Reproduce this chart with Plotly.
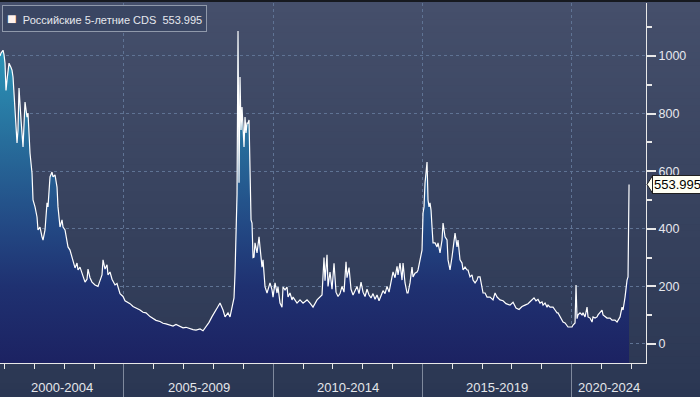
import plotly.graph_objects as go

# ---------------- data ----------------
years = [
    2000.850, 2000.884, 2000.951, 2000.984, 2001.018, 2001.051, 2001.085, 2001.152, 2001.219, 2001.252,
    2001.286, 2001.353, 2001.420, 2001.453, 2001.487, 2001.554, 2001.621, 2001.688, 2001.755, 2001.788,
    2001.855, 2001.922, 2001.956, 2002.023, 2002.090, 2002.123, 2002.190, 2002.257, 2002.291, 2002.358,
    2002.425, 2002.458, 2002.525, 2002.592, 2002.626, 2002.693, 2002.760, 2002.793, 2002.860, 2002.927,
    2002.961, 2003.028, 2003.095, 2003.128, 2003.195, 2003.262, 2003.296, 2003.363, 2003.430, 2003.463,
    2003.530, 2003.597, 2003.631, 2003.698, 2003.765, 2003.798, 2003.865, 2003.932, 2004.033, 2004.133,
    2004.200, 2004.267, 2004.301, 2004.368, 2004.435, 2004.468, 2004.535, 2004.602, 2004.703, 2004.770,
    2004.870, 2004.971, 2005.038, 2005.138, 2005.205, 2005.306, 2005.406, 2005.540, 2005.641, 2005.741,
    2005.875, 2005.976, 2006.076, 2006.210, 2006.311, 2006.411, 2006.545, 2006.646, 2006.746, 2006.880,
    2006.981, 2007.081, 2007.215, 2007.316, 2007.416, 2007.550, 2007.651, 2007.751, 2007.852, 2007.952,
    2008.053, 2008.153, 2008.220, 2008.321, 2008.388, 2008.488, 2008.555, 2008.622, 2008.656, 2008.689,
    2008.723, 2008.756, 2008.790, 2008.823, 2008.857, 2008.890, 2008.924, 2008.957, 2008.991, 2009.024,
    2009.058, 2009.091, 2009.125, 2009.158, 2009.192, 2009.225, 2009.259, 2009.292, 2009.326, 2009.359,
    2009.393, 2009.460, 2009.493, 2009.527, 2009.560, 2009.627, 2009.661, 2009.694, 2009.728, 2009.795,
    2009.828, 2009.895, 2009.962, 2009.996, 2010.063, 2010.130, 2010.163, 2010.230, 2010.297, 2010.331,
    2010.398, 2010.465, 2010.498, 2010.565, 2010.632, 2010.666, 2010.800, 2010.900, 2011.001, 2011.135,
    2011.235, 2011.336, 2011.470, 2011.570, 2011.637, 2011.704, 2011.738, 2011.805, 2011.838, 2011.905,
    2011.972, 2012.039, 2012.106, 2012.173, 2012.240, 2012.307, 2012.374, 2012.441, 2012.475, 2012.542,
    2012.609, 2012.676, 2012.743, 2012.810, 2012.877, 2012.944, 2013.011, 2013.078, 2013.145, 2013.212,
    2013.279, 2013.346, 2013.413, 2013.480, 2013.547, 2013.614, 2013.681, 2013.748, 2013.815, 2013.882,
    2013.949, 2014.016, 2014.083, 2014.150, 2014.183, 2014.250, 2014.317, 2014.351, 2014.418, 2014.485,
    2014.518, 2014.585, 2014.652, 2014.686, 2014.753, 2014.820, 2014.853, 2014.920, 2014.987, 2015.021,
    2015.054, 2015.088, 2015.121, 2015.155, 2015.188, 2015.222, 2015.255, 2015.289, 2015.322, 2015.356,
    2015.423, 2015.490, 2015.523, 2015.590, 2015.657, 2015.691, 2015.758, 2015.825, 2015.858, 2015.925,
    2015.992, 2016.026, 2016.093, 2016.160, 2016.193, 2016.260, 2016.327, 2016.361, 2016.428, 2016.495,
    2016.528, 2016.595, 2016.662, 2016.696, 2016.763, 2016.830, 2016.863, 2016.930, 2016.997, 2017.031,
    2017.098, 2017.165, 2017.265, 2017.366, 2017.433, 2017.500, 2017.600, 2017.701, 2017.801, 2017.935,
    2018.036, 2018.136, 2018.237, 2018.337, 2018.438, 2018.538, 2018.639, 2018.739, 2018.806, 2018.873,
    2018.940, 2019.007, 2019.041, 2019.108, 2019.175, 2019.208, 2019.275, 2019.342, 2019.376, 2019.443,
    2019.510, 2019.543, 2019.610, 2019.677, 2019.711, 2019.778, 2019.845, 2019.878, 2019.945, 2020.012,
    2020.046, 2020.113, 2020.146, 2020.180, 2020.213, 2020.280, 2020.347, 2020.381, 2020.448, 2020.515,
    2020.548, 2020.615, 2020.682, 2020.716, 2020.783, 2020.850, 2020.883, 2020.950, 2021.017, 2021.051,
    2021.118, 2021.185, 2021.218, 2021.285, 2021.352, 2021.386, 2021.453, 2021.520, 2021.553, 2021.620,
    2021.687, 2021.721, 2021.788, 2021.821, 2021.855, 2021.888, 2021.922,
]
cds_values = [
    1000, 1010, 1020, 1005, 975, 880, 917, 975, 960, 951,
    927, 802, 698, 743, 889, 778, 684, 840, 788, 802,
    663, 594, 500, 476, 441, 396, 406, 372, 361, 396,
    490, 476, 580, 597, 580, 587, 545, 476, 406, 431,
    406, 396, 351, 337, 326, 302, 281, 264, 281, 257,
    267, 247, 233, 215, 225, 260, 230, 215, 205, 200,
    220, 240, 292, 260, 275, 240, 250, 225, 205, 210,
    175, 165, 150, 145, 140, 130, 125, 118, 110, 108,
    95, 88, 82, 78, 72, 70, 66, 62, 68, 60,
    56, 58, 52, 50, 48, 52, 46, 60, 75, 95,
    115, 130, 142, 118, 94, 108, 94, 128, 142, 160,
    246, 372, 520, 1087, 560, 927, 743, 823, 760, 684,
    788, 733, 767, 767, 778, 604, 431, 420, 300, 302,
    351, 316, 337, 372, 337, 267, 292, 246, 198, 177,
    188, 212, 188, 163, 212, 177, 198, 142, 128, 198,
    188, 198, 163, 177, 153, 163, 142, 153, 142, 153,
    142, 128, 153, 163, 170, 300, 220, 310, 200, 250,
    190, 280, 180, 165, 175, 200, 180, 285, 230, 265,
    190, 170, 185, 200, 175, 215, 180, 165, 190, 170,
    160, 175, 155, 170, 150, 165, 185, 175, 200, 180,
    215, 250, 230, 270, 240, 281, 222, 281, 212, 177,
    177, 212, 267, 233, 246, 250, 257, 292, 326, 455,
    476, 559, 604, 632, 500, 476, 490, 465, 406, 351,
    351, 337, 351, 316, 361, 420, 372, 361, 292, 257,
    302, 326, 385, 337, 361, 292, 281, 257, 267, 257,
    257, 233, 240, 222, 212, 222, 233, 233, 188, 177,
    177, 163, 163, 153, 177, 163, 153, 150, 140, 135,
    145, 125, 120, 130, 135, 140, 150, 160, 150, 155,
    142, 146, 135, 142, 128, 135, 128, 128, 128, 118,
    108, 108, 94, 83, 76, 73, 66, 59, 59, 59,
    66, 73, 205, 88, 101, 108, 101, 108, 94, 128,
    94, 90, 76, 94, 90, 94, 101, 108, 118, 101,
    94, 90, 90, 90, 83, 83, 83, 76, 83, 94,
    128, 118, 163, 198, 222, 233, 553.995,
]
series_name = "Российские 5-летние CDS"
last_value_text = "553.995"
period_starts = [2000, 2005, 2010, 2015, 2020]
period_labels = ["2000-2004", "2005-2009", "2010-2014", "2015-2019", "2020-2024"]
y_tick_values = [0, 200, 400, 600, 800, 1000]

# ---------------- layout constants ----------------
W, H = 700, 397
M_L, M_R, M_T, M_B = 0, 54, 3, 34
X_RANGE = [2000.85, 2022.49]
Y_RANGE = [-66, 1184]
plot_h = H - M_T - M_B
plot_w = W - M_L - M_R
FONT = "Liberation Sans, Arial"

fig = go.Figure()

# baseline at the axis floor so the area reaches the bottom of the plot
fig.add_trace(go.Scatter(
    x=years, y=[Y_RANGE[0]] * len(years), mode="lines",
    line=dict(width=0, color="rgba(0,0,0,0)"), showlegend=False, hoverinfo="skip"))

fig.add_trace(go.Scatter(
    x=years, y=cds_values, mode="lines", name=series_name,
    line=dict(color="#ffffff", width=1.2),
    fill="tonexty",
    fillgradient=dict(
        type="vertical", start=Y_RANGE[0], stop=1150,
        colorscale=[[0.0, "#1c2262"], [0.22, "#1f3171"], [0.4, "#234a85"],
                    [0.63, "#276d9b"], [0.88, "#2b93b6"], [1.0, "#2fa3c4"]]),
    showlegend=False))

# background gradient (figure-wide vertical gradient)
def hex2rgb(h):
    h = h.lstrip("#")
    return [int(h[i:i + 2], 16) for i in (0, 2, 4)]

top_c, bot_c = hex2rgb("#454f6b"), hex2rgb("#2b3753")
n_bands = 60
y_top = 1 + M_T / plot_h
y_bot = -M_B / plot_h
x_right = (W - M_L) / plot_w
shapes = []
for i in range(n_bands):
    t = i / (n_bands - 1)
    c = [round(top_c[k] + (bot_c[k] - top_c[k]) * t) for k in range(3)]
    y1 = y_top - (y_top - y_bot) * i / n_bands
    y0 = y_top - (y_top - y_bot) * (i + 1) / n_bands
    shapes.append(dict(type="rect", xref="paper", yref="paper", x0=-0.01, x1=x_right + 0.01,
                       y0=y0 - 0.002, y1=y1 + 0.002, fillcolor=f"rgb({c[0]},{c[1]},{c[2]})",
                       line=dict(width=0), layer="below"))
# dark strip along the very top
shapes.append(dict(type="rect", xref="paper", yref="paper", x0=-0.01, x1=x_right + 0.01,
                   y0=1 + 1 / plot_h, y1=y_top + 0.01, fillcolor="#16191f",
                   line=dict(width=0), layer="above"))
# pointer of the last-value callout
shapes.append(dict(type="path", xref="paper", yref="y", xsizemode="pixel", ysizemode="pixel",
                   xanchor=1, yanchor=cds_values[-1],
                   path="M 1,0 L 7,9.5 L 7,-9.5 Z",
                   fillcolor="#fffff4", line=dict(color="#202020", width=1), layer="above"))

annotations = []
# period labels centered in the visible part of each period
for s, lab in zip(period_starts, period_labels):
    a = max(s, X_RANGE[0])
    b = min(s + 5, X_RANGE[1])
    annotations.append(dict(x=(a + b) / 2, y=0, xref="x", yref="paper", yanchor="middle",
                            yshift=-24, text=lab, showarrow=False,
                            font=dict(family=FONT, size=13, color="#e4e6ea")))
# legend box
annotations.append(dict(
    x=0, y=1, xref="paper", yref="paper", xanchor="left", yanchor="top", xshift=2, yshift=-2,
    text=f"<span style='font-size:16px;color:#fff2ee'>■</span>  {series_name}  {last_value_text}",
    showarrow=False, align="left", bgcolor="#3a4663", bordercolor="#9099ab", borderwidth=1,
    borderpad=4, font=dict(family=FONT, size=11, color="#e6e8ee")))
# last value callout
annotations.append(dict(
    x=1, y=cds_values[-1], xref="paper", yref="y", xanchor="left", yanchor="middle", xshift=6,
    text=last_value_text, showarrow=False, bgcolor="#fffff4", bordercolor="#202020",
    borderwidth=1, borderpad=1, font=dict(family=FONT, size=13, color="#000000")))

fig.update_layout(
    width=W, height=H,
    margin=dict(l=M_L, r=M_R, t=M_T, b=M_B),
    paper_bgcolor="#2b3753", plot_bgcolor="rgba(0,0,0,0)",
    shapes=shapes, annotations=annotations, showlegend=False,
    xaxis=dict(
        range=X_RANGE, showgrid=True, gridcolor="#5f7394", griddash="dot", gridwidth=1,
        tickmode="array", tickvals=[s for s in period_starts if X_RANGE[0] < s < X_RANGE[1]],
        showticklabels=False, ticks="outside", ticklen=34, tickcolor="#7f899d", tickwidth=1,
        minor=dict(dtick=1, tick0=2000, ticks="outside", ticklen=5, tickcolor="#e8e8e8",
                   showgrid=False),
        showline=True, linecolor="#e8e8e8", linewidth=1, zeroline=False),
    yaxis=dict(
        range=Y_RANGE, side="right", showgrid=True, gridcolor="#5f7394", griddash="dot",
        tickmode="array", tickvals=y_tick_values,
        ticks="outside", ticklen=9, tickwidth=1.5, tickcolor="#e8e8e8",
        minor=dict(dtick=100, tick0=0, ticks="outside", ticklen=5, tickcolor="#e8e8e8",
                   showgrid=False),
        tickfont=dict(family=FONT, size=12.5, color="#e6e8ee"),
        showline=True, linecolor="#e8e8e8", linewidth=1, zeroline=False),
)

fig.write_html("out.html", config={"displayModeBar": False},
               post_script="document.body.style.margin='0';document.body.style.overflow='hidden';")
